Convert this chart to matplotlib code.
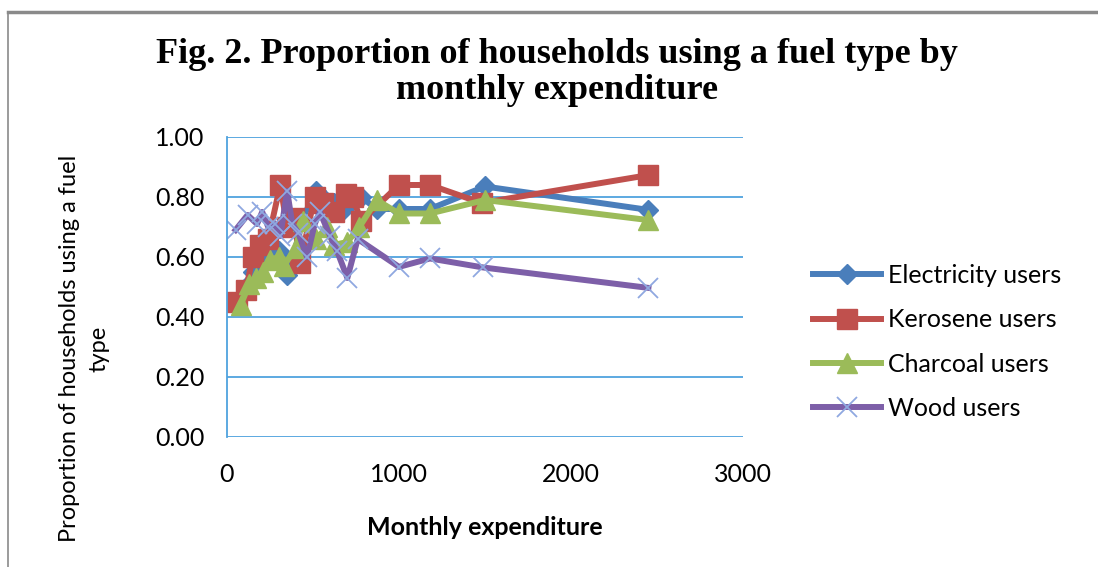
import numpy as np
from matplotlib import pyplot as plt
from matplotlib.lines import Line2D

# values
elec_x = [60, 110, 150, 190, 240, 300, 350, 390, 430, 520, 570, 620, 680, 730, 780, 870, 1000, 1180, 1500, 2450]
elec_y = [0.45, 0.50, 0.55, 0.58, 0.60, 0.62, 0.54, 0.60, 0.72, 0.82, 0.79, 0.78, 0.76, 0.80, 0.80, 0.76, 0.76, 0.76, 0.835, 0.757]

kero_x = [60, 110, 150, 190, 240, 310, 350, 390, 425, 510, 560, 620, 690, 730, 780, 1000, 1180, 1480, 2450]
kero_y = [0.45, 0.49, 0.60, 0.64, 0.66, 0.84, 0.70, 0.73, 0.58, 0.80, 0.78, 0.75, 0.81, 0.80, 0.72, 0.84, 0.84, 0.78, 0.873]

char_x = [80, 130, 170, 210, 250, 300, 330, 400, 440, 520, 580, 620, 700, 770, 870, 1000, 1180, 1500, 2450]
char_y = [0.44, 0.51, 0.53, 0.55, 0.59, 0.60, 0.57, 0.63, 0.72, 0.66, 0.70, 0.64, 0.65, 0.70, 0.79, 0.745, 0.745, 0.79, 0.723]

wood_x = [50, 120, 175, 205, 240, 280, 310, 350, 380, 415, 465, 510, 540, 600, 640, 700, 760, 1000, 1180, 1490, 2450]
wood_y = [0.69, 0.74, 0.71, 0.75, 0.70, 0.71, 0.67, 0.82, 0.71, 0.68, 0.60, 0.71, 0.75, 0.67, 0.62, 0.53, 0.66, 0.567, 0.595, 0.565, 0.497]

yticks = [0.0, 0.2, 0.4, 0.6, 0.8, 1.0]
xticks = [0, 1000, 2000, 3000]

plt.rcParams['font.family'] = ['Lato', 'DejaVu Sans']

fig = plt.figure(figsize=(10.98, 5.67), dpi=100)
ax = fig.add_axes([0.2067, 0.2293, 0.47, 0.5291])

grid_col = '#4FA3DE'
lw = 4.3
ax.plot(elec_x, elec_y, color='#4A7EBB', lw=lw, marker='D', ms=10, label='Electricity users')
ax.plot(kero_x, kero_y, color='#C0504D', lw=lw, marker='s', ms=15, label='Kerosene users')
ax.plot(char_x, char_y, color='#9BBB59', lw=lw, marker='^', ms=15, label='Charcoal users')
ax.plot(wood_x, wood_y, color='#7D5FA8', lw=lw, marker='x', ms=14, mew=1.3,
        mec='#8FA8E0', label='Wood users')

ax.set_xlim(0, 3000)
ax.set_ylim(0, 1.0)
ax.set_xticks(xticks)
ax.set_yticks(yticks)
ax.set_yticklabels(['%.2f' % v for v in yticks])
ax.tick_params(length=0, labelsize=18)
ax.tick_params(axis='y', pad=16)
ax.tick_params(axis='x', pad=19)
ax.yaxis.grid(True, color=grid_col, lw=1.3)
ax.set_axisbelow(True)
for s in ['top', 'right', 'bottom']:
    ax.spines[s].set_visible(False)
ax.spines['left'].set_color(grid_col)
ax.spines['left'].set_linewidth(1.3)

ax.set_xlabel('Monthly expenditure', fontsize=18, fontweight='bold', labelpad=21)
fig.text(0.077, 0.385, 'Proportion of households using a fuel\ntype', rotation=90,
         ha='center', va='center', fontsize=17, multialignment='center', linespacing=1.5)

fig.text(0.507, 0.872, 'Fig. 2. Proportion of households using a fuel type by\nmonthly expenditure',
         ha='center', va='center', fontsize=26, fontweight='bold',
         family='Liberation Serif', linespacing=1.1)

ax.legend(loc='center left', bbox_to_anchor=(0.72, 0.397), bbox_transform=fig.transFigure,
          frameon=False, fontsize=18, handlelength=2.7, labelspacing=0.85, handletextpad=0.3)

# outer chart border (top and left edges)
fig.add_artist(Line2D([0.007, 1.0], [0.978, 0.978], color='#8A8A8A', lw=2.5))
fig.add_artist(Line2D([0.007, 0.007], [0.0, 0.978], color='#8A8A8A', lw=1.2))

plt.savefig('out.png', dpi=100)
